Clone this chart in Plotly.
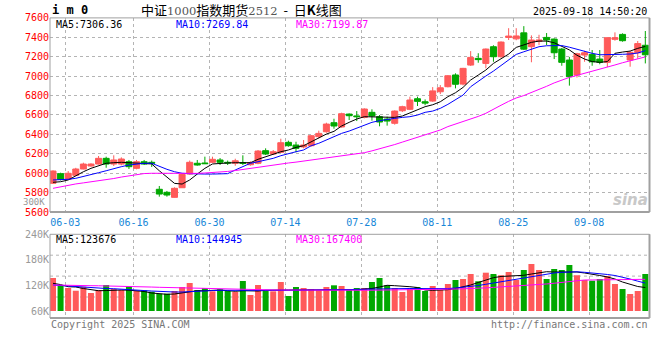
import plotly.graph_objects as go

# ---------------- data ----------------
dates = ["05-29","05-30","06-03","06-04","06-05","06-06","06-09","06-10","06-11","06-12",
         "06-13","06-16","06-17","06-18","06-19","06-20","06-23","06-24","06-25","06-26",
         "06-27","06-30","07-01","07-02","07-03","07-04","07-07","07-08","07-09","07-10",
         "07-11","07-14","07-15","07-16","07-17","07-18","07-21","07-22","07-23","07-24",
         "07-25","07-28","07-29","07-30","07-31","08-01","08-04","08-05","08-06","08-07",
         "08-08","08-11","08-12","08-13","08-14","08-15","08-18","08-19","08-20","08-21",
         "08-22","08-25","08-26","08-27","08-28","08-29","09-01","09-02","09-03","09-04",
         "09-05","09-08","09-09","09-10","09-11","09-12","09-15","09-16","09-17"]
tick_dates = ["06-03","06-16","06-30","07-14","07-28","08-11","08-25","09-08"]

open_ = [5896,5995,5937,5978,6043,6074,6094,6153,6094,6094,
         6118,6050,6118,6112,5834,5803,5751,5850,5991,6102,
         6105,6112,6136,6112,6102,6108,6087,6102,6232,6197,
         6215,6318,6290,6270,6283,6376,6427,6520,6476,6609,
         6590,6575,6627,6582,6558,6514,6643,6658,6767,6736,
         6743,6839,6891,7012,6918,7114,7183,7131,7303,7200,
         7398,7384,7446,7303,7358,7399,7382,7279,7166,7011,
         7217,7224,7176,7142,7379,7430,7166,7240,7318]
high = [6030,6005,6022,6055,6108,6102,6177,6170,6184,6163,
        6136,6136,6136,6130,5868,5817,5854,5999,6130,6136,
        6170,6170,6156,6130,6149,6184,6122,6239,6256,6239,
        6355,6335,6324,6342,6393,6438,6520,6561,6623,6616,
        6640,6668,6658,6599,6582,6647,6695,6788,6788,6760,
        6887,6908,7011,7029,7085,7258,7236,7285,7318,7358,
        7494,7494,7515,7420,7426,7444,7389,7290,7198,7240,
        7261,7269,7269,7400,7451,7441,7260,7362,7465]
low = [5890,5925,5930,5970,6040,6067,6090,6056,6074,6081,
       6043,6040,6084,6064,5758,5758,5748,5848,5985,6077,
       6094,6105,6084,6084,6077,6084,6077,6092,6187,6187,
       6208,6273,6215,6256,6273,6359,6417,6458,6469,6548,
       6537,6565,6541,6483,6490,6500,6630,6650,6692,6700,
       6735,6815,6884,6874,6905,7105,7138,7080,7148,7190,
       7372,7370,7269,7143,7320,7320,7176,7107,6902,6985,
       7148,7107,7122,7093,7365,7355,7097,7180,7131]
close = [6022,5935,5999,6043,6094,6094,6153,6094,6136,6146,
         6067,6118,6094,6102,5785,5775,5844,5988,6112,6084,
         6098,6143,6112,6105,6128,6102,6108,6228,6197,6221,
         6314,6283,6256,6290,6386,6410,6506,6486,6613,6592,
         6582,6661,6589,6527,6537,6640,6685,6754,6740,6722,
         6848,6880,7004,6916,7080,7193,7170,7279,7200,7351,
         7413,7414,7278,7372,7372,7372,7241,7142,6994,7231,
         7241,7148,7142,7396,7396,7365,7245,7335,7220]

ma5 = [5906,5912,5930,5974,6015,6050,6077,6102,6108,6112,
       6108,6105,6102,6095,6025,5957,5895,5888,5930,5991,
       6050,6095,6102,6105,6108,6108,6108,6143,6170,6194,
       6221,6239,6266,6283,6324,6359,6403,6431,6486,6524,
       6558,6582,6582,6582,6575,6575,6589,6623,6658,6685,
       6705,6736,6788,6829,6884,6960,7011,7063,7131,7183,
       7227,7296,7320,7348,7361,7361,7344,7303,7270,7215,
       7176,7150,7142,7150,7235,7248,7258,7286,7306]
ma10 = [5930,5930,5937,5947,5964,5981,6005,6025,6050,6067,
        6084,6095,6102,6102,6067,6040,6015,5999,5995,5991,
        5991,5991,5995,5995,6033,6067,6102,6118,6136,6153,
        6180,6197,6221,6239,6283,6308,6342,6376,6410,6434,
        6462,6496,6524,6541,6555,6565,6575,6582,6599,6627,
        6640,6668,6709,6760,6805,6891,6949,7001,7052,7107,
        7166,7224,7251,7276,7303,7313,7313,7315,7298,7276,
        7258,7235,7220,7220,7220,7225,7228,7238,7262]
ma30 = [5844,5860,5876,5889,5900,5910,5920,5930,5945,5960,
        5974,5987,5996,5999,5998,5996,5994,5993,5995,5998,
        6002,6006,6010,6018,6027,6039,6051,6064,6077,6086,
        6095,6105,6114,6124,6134,6144,6155,6166,6177,6188,
        6200,6211,6230,6250,6272,6295,6320,6345,6370,6392,
        6420,6445,6480,6505,6530,6555,6585,6617,6655,6700,
        6740,6775,6800,6830,6860,6895,6930,6960,6987,7008,
        7028,7048,7070,7092,7115,7138,7158,7175,7198]

# volume (thousands, on the chart's own label scale)
vol = [137.5,119.4,114,107.6,117,102.2,109.3,121,111.6,109.3,
       118,107.6,108.6,105.3,100.6,100.6,106.9,116.3,125.7,109.3,
       114,106.2,110.9,106.9,104.6,130.4,97.6,121,107.6,106.2,
       128,95.2,116.3,114,111.6,108.6,116.3,120.3,118.7,109.3,
       114,114,128,137.5,120.3,114,104.6,111.6,116.3,106.9,
       118.7,109.3,123.4,132.8,135.1,146.8,129.7,149.9,146.8,143.8,
       151.5,132.8,156.2,170.3,156.2,135.1,158.6,156.2,168,143.8,
       132.8,131.1,135.1,142.1,123.4,111.6,99.9,106.9,146.8]
vma5 = [125,122,117,116.3,112.8,109.3,107.6,108,109.3,109.3,
        108.8,108,105.8,102.2,99.9,99.2,99.9,102.2,105.8,107.6,
        107.6,108.6,109.3,107.6,106.2,107.6,106.9,106.9,108.6,109.3,
        109.3,109.3,109.3,109.3,109.3,109.3,109.3,109.3,109.3,109.3,
        110,111.6,112.8,116.3,120.3,119.4,118.7,117,115.1,109.3,
        108.6,108.6,110,112.8,116.3,121,126.9,132.8,138.2,141,
        142.1,142.1,143.8,146.8,150.3,152.2,151.5,151.5,152,151.5,
        149.2,146.8,143.3,139.8,135.1,128,123.4,117.5,115.1]
vma10 = [121,119.8,118.7,117.5,115.1,114,113.3,112.8,112.3,111.6,
         110.4,109.3,108,106.9,105.8,104.6,104.6,104.6,105.8,106.9,
         107.6,108,108.6,108.8,109.3,108.6,108.6,108.6,108.6,108.6,
         108.6,108.6,108.6,108.6,108.6,108.6,108.6,109.3,109.8,110.2,
         110.7,111.2,111.6,112.3,113,113.3,113.3,112.8,112.6,112.3,
         112.3,112.3,112.6,114,115.6,117.5,119.8,122.7,125.7,129.2,
         132,135.1,138.2,141,143.8,146.8,149.2,150.8,152,152,
         150.8,149.6,148,145.7,143.3,139.8,135,130,125.5]
vma30 = [121,121,120.8,120.5,120,119.4,119.2,119,118.6,118.3,
         118,117.4,116.9,116.2,115.6,115.1,114.5,114,113.3,112.8,
         112.3,111.9,111.6,111.2,110.8,110.4,110.1,109.8,109.6,109.4,
         109.3,109.1,109,108.9,108.8,108.7,108.6,108.6,108.6,108.6,
         108.6,108.7,108.8,108.9,109,109.1,109.2,109.5,109.8,110.1,
         110.4,110.8,111.2,111.6,112,112.3,113.3,114.3,115.4,116.4,
         117.5,118.7,119.8,121,122.2,123.4,125.2,127,128.8,130.8,
         132.8,132.8,132.8,132.8,132.8,132.8,133.3,133.8,134.4]

price_ticks = [5600,5800,6000,6200,6400,6600,6800,7000,7200,7400,7600]
vol_ticks = [60,120,180,240]
vol_tick_text = ["60K","120K","180K","240K"]
vol_floor = 60

# ---------------- styling ----------------
W, H = 660, 360
RED, GREEN = "#FF5A5A", "#00A800"
MONO = "DejaVu Sans Mono"
BLUE_TXT = "#1787D8"
FRAME = "#A0A0A0"
GRID = "#B4B4B4"

def px(x):
    return x / W

def py(y):
    return 1 - y / H

n = len(dates)
xs = list(range(n))
slot_off = 0.395  # gridline sits at the left edge of a candle slot
tickpos = [dates.index(d) - slot_off for d in tick_dates]

fig = go.Figure()

fig.add_trace(go.Candlestick(
    x=xs, open=open_, high=high, low=low, close=close,
    increasing=dict(line=dict(color=RED, width=1), fillcolor=RED),
    decreasing=dict(line=dict(color=GREEN, width=1), fillcolor=GREEN),
    whiskerwidth=0, xaxis="x", yaxis="y", showlegend=False, hoverinfo="skip"))

for arr, col in ((ma5, "#000000"), (ma10, "#0000FF"), (ma30, "#FF00FF")):
    fig.add_trace(go.Scatter(x=xs, y=arr, mode="lines", line=dict(color=col, width=1),
                             xaxis="x", yaxis="y", showlegend=False, hoverinfo="skip"))

bar_colors = [RED if c >= o else GREEN for o, c in zip(open_, close)]
fig.add_trace(go.Bar(x=xs, y=[v - vol_floor for v in vol], base=vol_floor,
                     marker=dict(color=bar_colors, line=dict(width=0)),
                     width=0.79, xaxis="x2", yaxis="y2", showlegend=False, hoverinfo="skip"))

for arr, col in ((vma5, "#000000"), (vma10, "#0000FF"), (vma30, "#FF00FF")):
    fig.add_trace(go.Scatter(x=xs, y=arr, mode="lines", line=dict(color=col, width=1),
                             xaxis="x2", yaxis="y2", showlegend=False, hoverinfo="skip"))

x_dom = [px(50), px(649.5)]
x_rng = [-slot_off, 78.55]
vol_px_per_unit = (311 - 234.3) / (240 - 60)
vol_low = vol_floor - (318 - 311) / vol_px_per_unit

fig.update_layout(
    width=W, height=H, margin=dict(l=0, r=0, t=0, b=0, autoexpand=False),
    paper_bgcolor="white", plot_bgcolor="white",
    boxgap=0.1, boxgroupgap=0.12, bargap=0.2,
    xaxis=dict(domain=x_dom, range=x_rng, anchor="y", automargin=False,
               tickmode="array", tickvals=tickpos, ticktext=tick_dates,
               tickfont=dict(family=MONO, size=10, color=BLUE_TXT),
               ticklabelstandoff=3,
               showgrid=True, gridcolor=GRID, griddash="dot", gridwidth=1,
               zeroline=False, showline=False, ticks="",
               rangeslider=dict(visible=False), fixedrange=True),
    yaxis=dict(domain=[py(212), py(17.9)], range=[5600, 7600], anchor="x", automargin=False,
               tickmode="array", tickvals=price_ticks,
               tickfont=dict(family=MONO, size=10, color="#FF0000"),
               showgrid=True, gridcolor=GRID, griddash="dot", gridwidth=1,
               zeroline=False, showline=False, ticks=""),
    xaxis2=dict(domain=x_dom, range=x_rng, anchor="y2", matches="x", automargin=False,
                tickmode="array", tickvals=tickpos, showticklabels=False,
                showgrid=True, gridcolor=GRID, griddash="dot", gridwidth=1,
                zeroline=False, showline=False, ticks=""),
    yaxis2=dict(domain=[py(318), py(234.3)], range=[vol_low, 240], anchor="x2", automargin=False,
                tickmode="array", tickvals=vol_ticks, ticktext=vol_tick_text,
                tickfont=dict(family=MONO, size=10, color="#999999"),
                showgrid=False, zeroline=False, showline=False, ticks=""),
)

shapes = []
for yy in (255.2, 276.1, 297.0):
    shapes.append(dict(type="line", xref="paper", yref="paper", x0=x_dom[0], x1=x_dom[1],
                       y0=py(yy), y1=py(yy), line=dict(color=GRID, width=1, dash="dot"), layer="below"))
for top, bot in ((17.9, 212), (234.3, 318)):
    shapes.append(dict(type="rect", xref="paper", yref="paper", x0=x_dom[0], x1=x_dom[1],
                       y0=py(bot), y1=py(top), line=dict(color=FRAME, width=1), layer="above"))
    shapes.append(dict(type="line", xref="paper", yref="paper", x0=x_dom[0], x1=x_dom[1],
                       y0=py(bot), y1=py(bot), line=dict(color=FRAME, width=2), layer="above"))
    shapes.append(dict(type="line", xref="paper", yref="paper", x0=x_dom[1], x1=x_dom[1],
                       y0=py(bot), y1=py(top), line=dict(color=FRAME, width=2), layer="above"))
fig.update_layout(shapes=shapes)

def ann(text, x, y, color="#000000", size=10, family=MONO, xanchor="left"):
    fig.add_annotation(text=text, x=px(x), y=py(y), xref="paper", yref="paper",
                       xanchor=xanchor, yanchor="middle", showarrow=False,
                       font=dict(family=family, size=size, color=color))

ann("<b>i m 0</b>", 50, 10, size=12)
serif = "font-family:'DejaVu Serif';color:#555555;font-size:11.5px"
title = ("中证<span style=\"%s\">1000</span>指数期货<span style=\"%s\">2512</span>"
         "&nbsp;&nbsp;-&nbsp;&nbsp;日<b>K</b>线图") % (serif, serif)
ann(title, 139, 9.5, size=13, family="Noto Sans CJK SC")
ann("2025-09-18 14:50:20", 648.5, 11, xanchor="right")

ann("MA5:7306.36", 54, 24.5)
ann("MA10:7269.84", 174, 24.5, color="#0000FF")
ann("MA30:7199.87", 294, 24.5, color="#FF00FF")
ann("MA5:123676", 54, 239.5)
ann("MA10:144945", 174, 239.5, color="#0000FF")
ann("MA30:167400", 294, 239.5, color="#FF00FF")

ann("300K", 47, 201.5, color="#999999", size=9, xanchor="right")
ann("Copyright 2025 SINA.COM", 49, 324, color="#777777")
ann("http://finance.sina.com.cn", 649.5, 324, color="#777777", xanchor="right")
ann("<b><i>sina</i></b>", 650, 200, color="#C8C8C8", size=15, family="DejaVu Sans", xanchor="right")

fig.write_html("out.html", config={"displayModeBar": False},
               post_script="document.body.style.margin='0';")
